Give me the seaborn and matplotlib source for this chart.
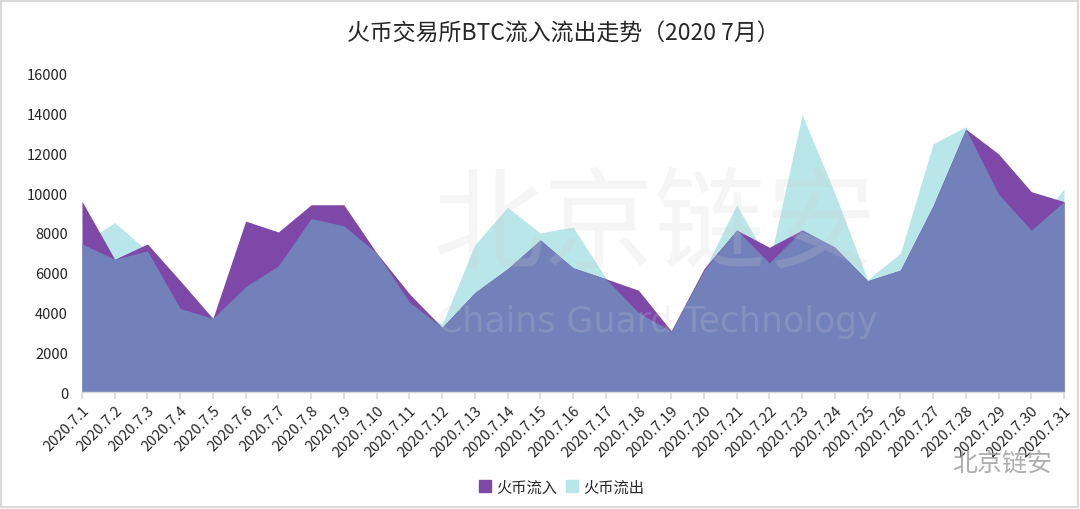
import numpy as np
import pandas as pd
import matplotlib
matplotlib.use("Agg")
import matplotlib.pyplot as plt
from matplotlib.patches import Patch, Rectangle
import seaborn as sns

# 日期标签
dates = ["2020.7.%d" % d for d in range(1, 32)]

# 火币流入 (BTC)
inflow = [9600, 6680, 7450, 5600, 3700, 8600, 8050, 9420, 9420, 7000,
          4950, 3250, 5000, 6200, 7650, 6250, 5700, 5120, 3080, 6200,
          8150, 7280, 8150, 7280, 5600, 6130, 9370, 13230, 11980, 10080,
          9580]
# 火币流出 (BTC)
outflow = [7450, 8520, 7100, 4200, 3750, 5300, 6350, 8730, 8360, 7000,
           4530, 3400, 7400, 9300, 8000, 8300, 5750, 4000, 3050, 6100,
           9420, 6500, 13950, 10000, 5650, 6970, 12480, 13350, 9960, 8140,
           10220]

c_in = "#7e48a8"
c_out = "#b9e6e8"
c_both = "#7281ba"

df = pd.DataFrame({"date": dates, "in": inflow, "out": outflow})
df["x"] = np.arange(len(df))

sns.set_theme(style="white")
plt.rcParams["font.family"] = ["Noto Sans CJK SC", "DejaVu Sans"]

fig = plt.figure(figsize=(10.8, 5.1), dpi=100)
ax = fig.add_axes([0.0759, 0.2294, 0.9093, 0.6236])

# 面积图：流出、流入，以及重叠部分
ax.fill_between(df["x"], 0, df["out"], color=c_out, lw=0)
ax.fill_between(df["x"], 0, df["in"], color=c_in, lw=0)
ax.fill_between(df["x"], 0, np.minimum(df["in"], df["out"]), color=c_both, lw=0)
sns.lineplot(data=df, x="x", y="in", ax=ax, lw=0, legend=False)

# 水印
ax.text(17.5, 8300, "北京链安", fontsize=80, color="#d0d0d0", alpha=0.2,
        ha="center", va="center", zorder=5)
ax.text(17.6, 3550, "Chains Guard Technology", fontsize=25, color="#d0d0d0",
        alpha=0.2, ha="center", va="center", zorder=5, family="DejaVu Sans")

ax.set_xlim(0, 30)
ax.set_ylim(0, 16000)
ax.set_yticks(np.arange(0, 16001, 2000))
ax.set_xticks(df["x"])
ax.set_xticklabels(dates, rotation=45, ha="right", rotation_mode="anchor")
ax.tick_params(axis="y", labelsize=10.5, colors="#262626", length=0, pad=10)
ax.tick_params(axis="x", labelsize=10.5, colors="#262626", length=5,
               direction="out", color="#d9d9d9", bottom=True, pad=3)
ax.set_xlabel("")
ax.set_ylabel("")
for s in ["top", "right", "left"]:
    ax.spines[s].set_visible(False)
ax.spines["bottom"].set_color("#d9d9d9")
ax.spines["bottom"].set_linewidth(1)

fig.text(0.522, 0.935, "火币交易所BTC流入流出走势（2020 7月）", fontsize=16.5,
         ha="center", va="center", color="#262626")

handles = [Patch(color=c_in, label="火币流入"), Patch(color=c_out, label="火币流出")]
fig.legend(handles=handles, loc="center", bbox_to_anchor=(0.52, 0.043), ncol=2,
           frameon=False, fontsize=11, handlelength=0.8, handleheight=0.8,
           handletextpad=0.3, columnspacing=0.6)

# 右下角公众号标识
fig.text(0.928, 0.09, "北京链安", fontsize=18, color="#9a9a9a", ha="center",
         va="center", alpha=0.8)

fig.patches.append(Rectangle((0.001, 0.003), 0.997, 0.994, transform=fig.transFigure,
                             fill=False, edgecolor="#d9d9d9", lw=1.5))

fig.savefig("out.png", dpi=100)
